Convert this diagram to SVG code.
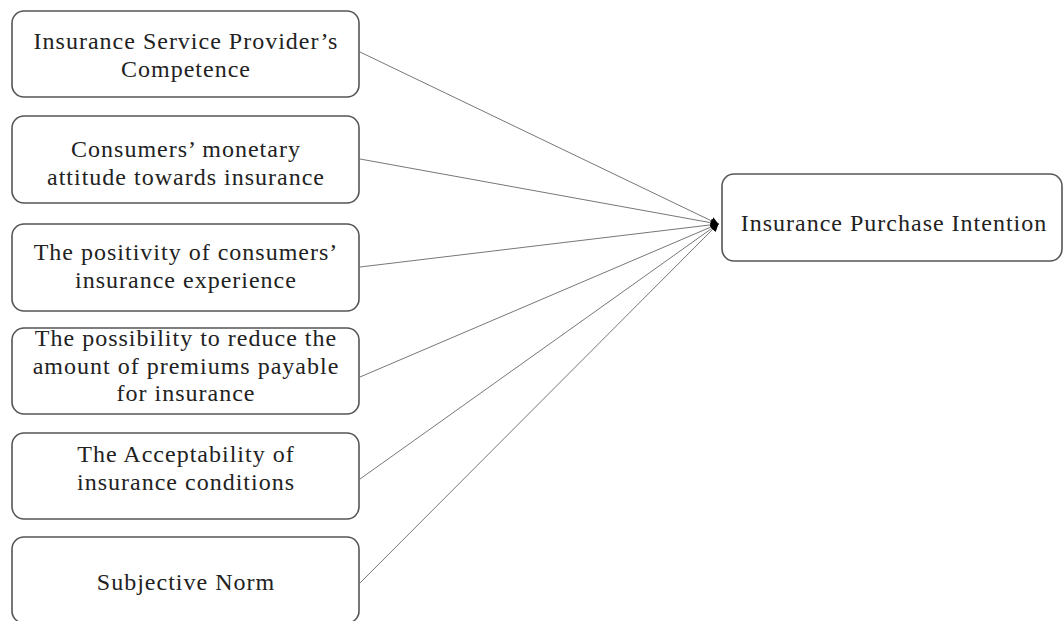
<svg xmlns="http://www.w3.org/2000/svg" width="1063" height="621" viewBox="0 0 1063 621">
<style>
.box{fill:#fff;stroke:#555;stroke-width:1.6}
.t{font-family:"Liberation Serif","Times New Roman",serif;font-size:24px;letter-spacing:1px;fill:#222;text-anchor:middle}
.c{stroke:#777;stroke-width:1;fill:none}
</style>
<defs>
<marker id="ah" viewBox="0 0 10 10" refX="9" refY="5" markerWidth="8" markerHeight="8" markerUnits="userSpaceOnUse" orient="auto">
<path d="M0,0 L10,5 L0,10 z" fill="#000"/>
</marker>
</defs>
<rect width="1063" height="621" fill="#fff"/>
<g id="connectors">
<line class="c" x1="360" y1="52" x2="718" y2="224" marker-end="url(#ah)"/>
<line class="c" x1="360" y1="159" x2="718" y2="224" marker-end="url(#ah)"/>
<line class="c" x1="360" y1="267" x2="718" y2="224" marker-end="url(#ah)"/>
<line class="c" x1="360" y1="377" x2="718" y2="224" marker-end="url(#ah)"/>
<line class="c" x1="360" y1="479" x2="718" y2="224" marker-end="url(#ah)"/>
<line class="c" x1="360" y1="583" x2="718" y2="224" marker-end="url(#ah)"/>
</g>
<g id="n1">
<rect class="box" x="12" y="11" width="347" height="86" rx="12"/>
<text class="t" x="186" y="49">Insurance Service Provider’s</text>
<text class="t" x="186" y="77">Competence</text>
</g>
<g id="n2">
<rect class="box" x="12" y="116" width="347" height="87" rx="12"/>
<text class="t" x="186" y="157">Consumers’ monetary</text>
<text class="t" x="186" y="185">attitude towards insurance</text>
</g>
<g id="n3">
<rect class="box" x="12" y="224" width="347" height="87" rx="12"/>
<text class="t" x="186" y="260">The positivity of consumers’</text>
<text class="t" x="186" y="288">insurance experience</text>
</g>
<g id="n4">
<rect class="box" x="12" y="328" width="347" height="86" rx="12"/>
<text class="t" x="186" y="346">The possibility to reduce the</text>
<text class="t" x="186" y="373.5">amount of premiums payable</text>
<text class="t" x="186" y="401">for insurance</text>
</g>
<g id="n5">
<rect class="box" x="12" y="433" width="347" height="86" rx="12"/>
<text class="t" x="186" y="462">The Acceptability of</text>
<text class="t" x="186" y="490">insurance conditions</text>
</g>
<g id="n6">
<rect class="box" x="12" y="537" width="347" height="86" rx="12"/>
<text class="t" x="186" y="590">Subjective Norm</text>
</g>
<g id="target">
<rect class="box" x="722" y="174" width="340" height="87" rx="12"/>
<text class="t" x="894" y="231">Insurance Purchase Intention</text>
</g>
</svg>
